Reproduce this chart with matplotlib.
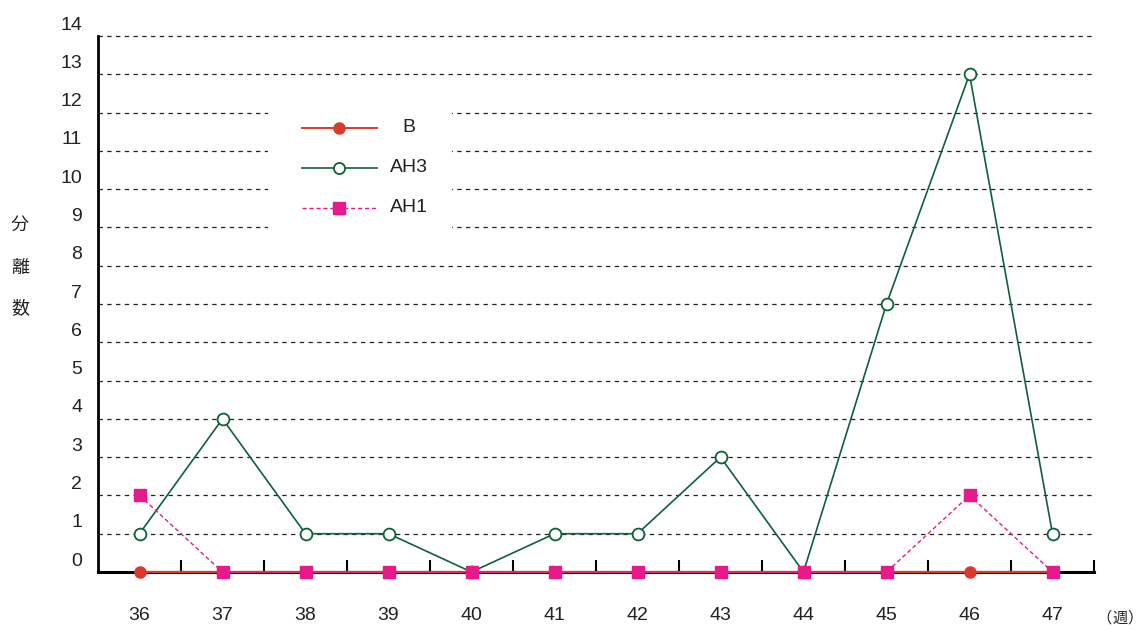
import matplotlib
matplotlib.use("Agg")
import matplotlib.pyplot as plt
from matplotlib.lines import Line2D
from matplotlib.patches import Rectangle
from matplotlib.transforms import offset_copy

plt.rcParams['font.family'] = ['Liberation Sans', 'Noto Sans CJK JP', 'DejaVu Sans']

weeks = ['36', '37', '38', '39', '40', '41', '42', '43', '44', '45', '46', '47']
b_vals = [0, 0, 0, 0, 0, 0, 0, 0, 0, 0, 0, 0]
ah3_vals = [1, 4, 1, 1, 0, 1, 1, 3, 0, 7, 13, 1]
ah1_vals = [2, 0, 0, 0, 0, 0, 0, 0, 0, 0, 2, 0]
y_ticks = list(range(0, 15))
series_names = ['B', 'AH3', 'AH1']

W, H = 1141, 629
fig = plt.figure(figsize=(W / 100, H / 100), dpi=100)
ax = fig.add_axes([98 / W, 1 - 572 / H, (1094 - 98) / W, (572 - 36) / H])

x = list(range(len(weeks)))
ax.set_xlim(-0.5, len(weeks) - 0.5)
ax.set_ylim(0, 14)

# gridlines
for v in y_ticks[1:]:
    ax.axhline(v, color='#222222', lw=0.9, ls=(0, (3.5, 3.5)), zorder=1, clip_on=False)

# white box behind legend
fx = lambda px: px / W
fy = lambda py: 1 - py / H
fig.patches.append(Rectangle((fx(268), fy(245)), fx(452) - fx(268), fy(90) - fy(245),
                             transform=fig.transFigure, facecolor='white',
                             edgecolor='none', zorder=2))
ax.set_zorder(1)

red = '#d93a2b'
green = '#10603a'
magenta = '#e8198b'

ax.plot(x, b_vals, color=red, lw=1.6, marker='o', ms=8, mfc=red, mec=red, zorder=3, clip_on=False)
ax.plot(x, ah3_vals, color=green, lw=1.2, marker='o', ms=8.5, mfc='white', mec=green,
        mew=1.3, zorder=4, clip_on=False)
ax.plot(x, ah1_vals, color=magenta, lw=1.0, ls=(0, (3, 2)), marker='s', ms=9, mfc=magenta,
        mec=magenta, zorder=5, clip_on=False)

# spines
for s in ['top', 'right']:
    ax.spines[s].set_visible(False)
ax.spines['left'].set_linewidth(2)
ax.spines['bottom'].set_linewidth(2.2)
ax.spines['bottom'].set_zorder(2.5)

# x ticks at category boundaries (inward)
bounds = [i + 0.5 for i in range(len(weeks))]
ax.set_xticks(bounds)
ax.set_xticklabels([])
ax.tick_params(axis='x', direction='in', length=9, width=1.5, color='black')
ax.set_yticks([])

# x labels
for i, w in enumerate(weeks):
    ax.text(i, 0, w, transform=offset_copy(ax.transData, fig=fig, x=0, y=-43, units='dots'),
            ha='center', va='center', fontsize=14, color='#222222')

# y labels (above gridlines)
for v in y_ticks:
    ax.text(0, v, str(v), transform=offset_copy(ax.get_yaxis_transform(), fig=fig, x=-16, y=11, units='dots'),
            ha='right', va='center', fontsize=14, color='#222222', clip_on=False)

# y axis title stacked
for ch, py in zip('分離数', [225, 268, 308]):
    fig.text(fx(20), fy(py), ch, ha='center', va='center', fontsize=13,
             family=['Noto Sans CJK JP'], color='#222222')
for ch, px in zip('（週）', [1104, 1120, 1135]):
    fig.text(fx(px), fy(618), ch, ha='center', va='center', fontsize=11,
             family=['Noto Sans CJK JP'], color='#222222')

# legend manually
styles = [
    dict(color=red, lw=1.4, marker='o', ms=8, mfc=red, mec=red),
    dict(color=green, lw=1.2, marker='o', ms=8, mfc='white', mec=green, mew=1.3),
    dict(color=magenta, lw=1.0, ls=(0, (3, 2)), marker='s', ms=8.5, mfc=magenta, mec=magenta),
]
for name, st, py in zip(series_names, styles, [128, 168, 208]):
    fig.lines.append(Line2D([fx(302), fx(377)], [fy(py), fy(py)], transform=fig.transFigure,
                            markevery=[], zorder=6, **st))
    fig.lines.append(Line2D([fx(339)], [fy(py)], transform=fig.transFigure, zorder=7,
                            **{k: v for k, v in st.items() if k not in ('ls',)}))
    fig.text(fx(409), fy(py), name, ha='center', va='center', fontsize=14, color='#222222', zorder=7)

fig.savefig('out.png', dpi=100, facecolor='white')
